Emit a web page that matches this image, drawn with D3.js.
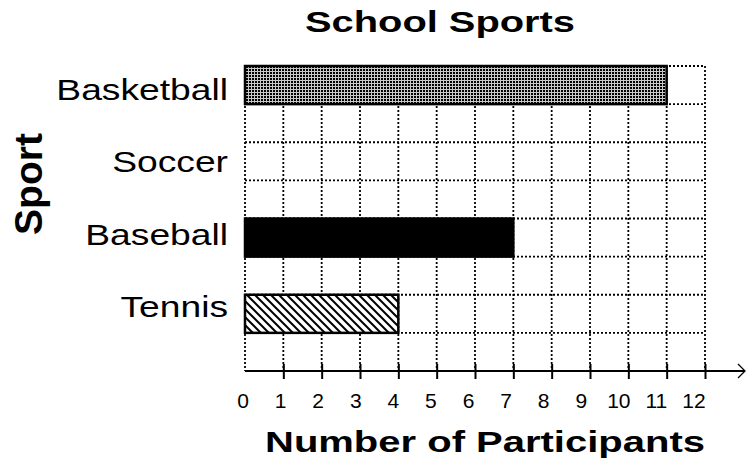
<!DOCTYPE html>
<html>
<head>
<meta charset="utf-8">
<script src="https://cdn.jsdelivr.net/npm/d3@7"></script>
<style>
  body { margin: 0; background: #fff; }
  svg { display: block; font-family: "Liberation Sans", Arial, sans-serif; }
</style>
</head>
<body>
<svg id="chart" width="748" height="466"></svg>
<script>
// data
const sports = ["Basketball", "Soccer", "Baseball", "Tennis"]
const participants = [11, 0, 7, 4]
const fills = ["url(#stipple)", "none", "#000", "url(#hatch)"]
const xTicks = [0, 1, 2, 3, 4, 5, 6, 7, 8, 9, 10, 11, 12]

const svg = d3.select("#chart")
const plotLeft = 245, plotRight = 705, plotTop = 66, plotBottom = 371

// patterns
const defs = svg.append("defs")
const stip = defs.append("pattern")
    .attr("id", "stipple")
    .attr("patternUnits", "userSpaceOnUse")
    .attr("width", 3).attr("height", 3)
stip.append("rect").attr("width", 3).attr("height", 3).attr("fill", "#c8c8c8")
stip.append("rect").attr("width", 2).attr("height", 2).attr("fill", "#000")
    .attr("shape-rendering", "crispEdges")

const hatch = defs.append("pattern")
    .attr("id", "hatch")
    .attr("patternUnits", "userSpaceOnUse")
    .attr("width", 8).attr("height", 8)
hatch.append("rect").attr("width", 8).attr("height", 8).attr("fill", "#fff")
hatch.append("path")
    .attr("d", "M-2,-2 L10,10 M-2,6 L2,10 M6,-2 L10,2")
    .attr("stroke", "#000").attr("stroke-width", 2)

const x = d3.scaleLinear().domain([0, 12]).range([plotLeft, plotRight])
const xLabel = d3.scaleLinear().domain([0, 12]).range([243, 694])

const y = d3.scaleBand()
    .domain(sports)
    .range([plotTop, plotBottom])
    .paddingInner(0.5)
    .paddingOuter(0.25)
    .align(0)

// label baselines sit a little off the bars in the picture
const yLabel = d3.scalePoint().domain(sports).range([100, 317])

// horizontal grid: every band edge
const rowLines = []
sports.forEach(s => {
    rowLines.push(y(s))
    rowLines.push(y(s) + y.bandwidth())
})

const grid = svg.append("g")
    .attr("stroke", "#000")
    .attr("stroke-width", 1.8)
    .attr("stroke-dasharray", "2,2")

grid.selectAll(".h")
    .data(rowLines)
    .join("line")
        .attr("class", "h")
        .attr("x1", plotLeft).attr("x2", plotRight)
        .attr("y1", d => d).attr("y2", d => d)

grid.selectAll(".v")
    .data(xTicks)
    .join("line")
        .attr("class", "v")
        .attr("x1", d => x(d)).attr("x2", d => x(d))
        .attr("y1", plotTop).attr("y2", plotBottom)

// bars
svg.append("g")
    .selectAll("rect")
    .data(sports.filter((s, i) => participants[i] > 0))
    .join("rect")
        .attr("x", x(0))
        .attr("y", d => y(d))
        .attr("width", d => x(participants[sports.indexOf(d)]) - x(0))
        .attr("height", y.bandwidth())
        .attr("fill", d => fills[sports.indexOf(d)])
        .attr("stroke", "#000")
        .attr("stroke-width", 2.5)

// x axis with arrow
const axis = d3.axisBottom(x)
    .tickValues(xTicks.slice(1))
    .tickSize(8)
    .tickSizeOuter(0)
    .tickFormat("")

const axisG = svg.append("g")
    .attr("transform", `translate(0, ${plotBottom})`)
    .call(axis)
axisG.select(".domain").remove()
axisG.selectAll(".tick line")
    .attr("y1", -7)
    .attr("stroke", "#000")
    .attr("stroke-width", 2)

axisG.append("line")
    .attr("x1", plotLeft).attr("x2", 745)
    .attr("stroke", "#000").attr("stroke-width", 2)
axisG.append("path")
    .attr("d", "M738,-7 L745,0 L738,7")
    .attr("fill", "none").attr("stroke", "#000").attr("stroke-width", 1.3)

svg.append("g")
    .selectAll("text")
    .data(xTicks)
    .join("text")
        .attr("x", d => xLabel(d))
        .attr("y", 408)
        .attr("text-anchor", "middle")
        .attr("font-size", 21)
        .text(d => d)

// category labels
svg.append("g")
    .selectAll("text")
    .data(sports)
    .join("text")
        .attr("y", d => yLabel(d))
        .attr("font-size", 30)
        .text(d => d)
        .each(function() {
            const t = d3.select(this)
            const w = this.getComputedTextLength() * 1.24
            t.attr("textLength", w)
                .attr("lengthAdjust", "spacingAndGlyphs")
                .attr("x", 228 - w)
        })

// titles
svg.append("text")
    .attr("x", 305).attr("y", 32)
    .attr("font-size", 30).attr("font-weight", "bold")
    .attr("textLength", 270).attr("lengthAdjust", "spacingAndGlyphs")
    .text("School Sports")

svg.append("text")
    .attr("x", 265).attr("y", 452)
    .attr("font-size", 30).attr("font-weight", "bold")
    .attr("textLength", 440).attr("lengthAdjust", "spacingAndGlyphs")
    .text("Number of Participants")

svg.append("text")
    .attr("transform", "translate(42, 235) rotate(-90)")
    .attr("font-size", 38).attr("font-weight", "bold")
    .attr("textLength", 102).attr("lengthAdjust", "spacingAndGlyphs")
    .text("Sport")
</script>
</body>
</html>
